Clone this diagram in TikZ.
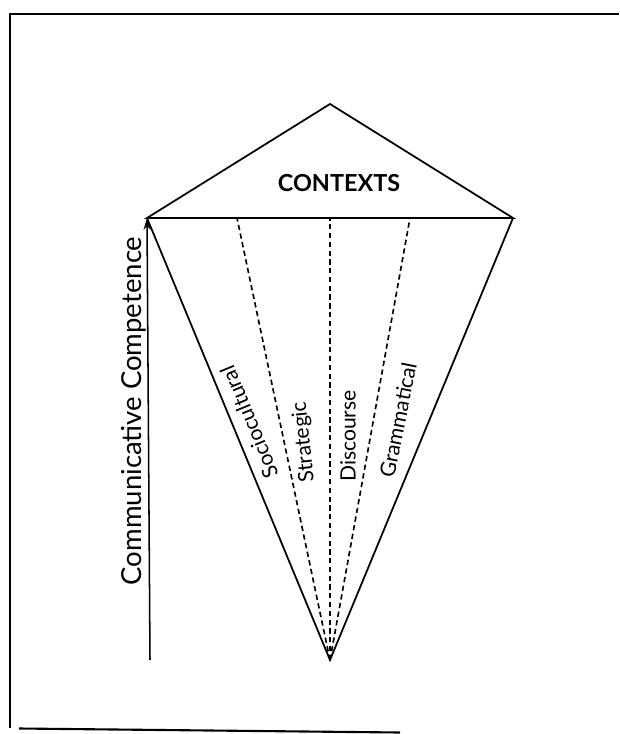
\documentclass[tikz,border=0pt]{standalone}
\usepackage{fontspec}
\setmainfont{Lato}
\usetikzlibrary{arrows.meta}
\tikzset{
  kiteline/.style={line width=1.5pt, line join=miter},
  fanline/.style={line width=1.4pt, dash pattern=on 4.5pt off 3pt},
  facetlabel/.style={font=\fontsize{18}{18}\selectfont, inner sep=0pt},
}
\begin{document}
\begin{tikzpicture}[x=0.03cm, y=-0.03cm]
    \useasboundingbox (0,0) rectangle (619,734);
    % Frame
    \draw[line width=1.6pt] (10,728) -- (10,14) -- (619,14);
    \draw[line width=1.8pt] (19,728.5) -- (400,732.5);

    % Kite corners
    \coordinate (apex) at (330,104);
    \coordinate (left) at (147,218);
    \coordinate (right) at (513,218);
    \coordinate (tip) at (330,660);
    \coordinate (sociotop) at (237,218);
    \coordinate (disctop) at (330,218);
    \coordinate (gramtop) at (410,218);
    \coordinate (axisfoot) at (150,660);

    % Contexts triangle and cone
    \draw[kiteline] (left) -- (apex) -- (right) -- cycle;
    \draw[kiteline] (left) -- (tip) -- (right);
    \foreach \top in {sociotop,disctop,gramtop}
        \draw[fanline] (tip) -- (\top);

    % Competence axis
    \draw[line width=1.3pt, -{Stealth[length=10pt,width=6pt]}] (axisfoot) -- (left);

    % Labels
    \node[font=\bfseries\fontsize{20}{20}\selectfont] (contexts) at (339,183) {CONTEXTS};
    \node[rotate=90, inner sep=0pt, font=\fontsize{23.5}{24}\selectfont] (competence) at (134,411) {Communicative Competence};
    \node[facetlabel, rotate=112.5] (sociocultural) at (249,422) {Sociocultural};
    \node[facetlabel, rotate=96] (strategic) at (304,442) {Strategic};
    \node[facetlabel, rotate=90] (discourse) at (348,436) {Discourse};
    \node[facetlabel, rotate=78.7] (grammatical) at (398,420) {Grammatical};
\end{tikzpicture}
\end{document}
